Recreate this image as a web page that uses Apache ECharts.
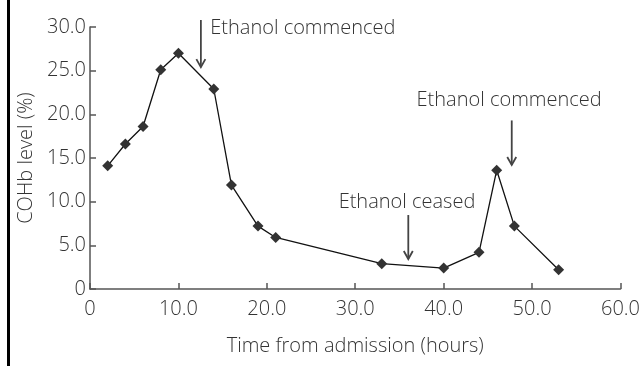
<!DOCTYPE html>
<html>
<head>
<meta charset="utf-8">
<script src="https://cdn.jsdelivr.net/npm/echarts@6/dist/echarts.min.js"></script>
<style>
html,body{margin:0;padding:0;background:#fff;}
#chart{width:643px;height:366px;}
</style>
</head>
<body>
<div id="chart"></div>
<script>
// Data
const hours = [2, 4, 6, 8, 10, 14, 16, 19, 21, 33, 40, 44, 46, 48, 53];
const cohb = [14.1, 16.6, 18.6, 25.1, 27.0, 22.9, 11.9, 7.2, 5.9, 2.9, 2.4, 4.2, 13.6, 7.2, 2.2];
const xTickValues = [0, 10, 20, 30, 40, 50, 60];
const xTickLabels = ['0', '10.0', '20.0', '30.0', '40.0', '50.0', '60.0'];
const yTickValues = [0, 5, 10, 15, 20, 25, 30];
const yTickLabels = ['0', '5.0', '10.0', '15.0', '20.0', '25.0', '30.0'];
const annotationTexts = ['Ethanol commenced', 'Ethanol ceased', 'Ethanol commenced'];
const arrowX = [12.54, 36.0, 47.7];
const arrowTop = [30.8, 8.47, 19.3];
const arrowTip = [25.4, 3.43, 14.2];
const textX = [13.6, 35.85, 47.4];
const textY = [29.9, 9.95, 21.6];
const textAlign = ['left', 'center', 'center'];

const FONT = 'Open Sans';
const FW = 300;
const FS = 20;
const TXT = '#333';
const chart = echarts.init(document.getElementById('chart'));
const points = hours.map((h, i) => [h, cohb[i]]);

chart.setOption({
  animation: false,
  textStyle: {fontFamily: FONT},
  grid: {left: 90, right: 22, top: 27, bottom: 77, containLabel: false},
  xAxis: {
    type: 'value', min: 0, max: 60, interval: 10,
    name: 'Time from admission (hours)', nameLocation: 'middle', nameGap: 47,
    nameTextStyle: {fontFamily: FONT, fontSize: FS, fontWeight: FW, color: TXT},
    axisLine: {lineStyle: {color: '#555', width: 1.5}},
    axisTick: {show: true, inside: true, length: 6, lineStyle: {color: '#555', width: 1.5}},
    axisLabel: {fontFamily: FONT, fontSize: FS, fontWeight: FW, color: TXT, margin: 10,
      formatter: v => { const i = xTickValues.indexOf(v); return i >= 0 ? xTickLabels[i] : ''; }},
    splitLine: {show: false}
  },
  yAxis: {
    type: 'value', min: 0, max: 30, interval: 5,
    name: 'COHb level (%)', nameLocation: 'middle', nameGap: 43,
    nameTextStyle: {fontFamily: FONT, fontSize: FS, fontWeight: FW, color: TXT},
    axisLine: {show: true, lineStyle: {color: '#555', width: 1.5}},
    axisTick: {show: true, inside: true, length: 6, lineStyle: {color: '#555', width: 1.5}},
    axisLabel: {fontFamily: FONT, fontSize: FS, fontWeight: FW, color: TXT, margin: 4,
      formatter: v => { const i = yTickValues.indexOf(v); return i >= 0 ? yTickLabels[i] : ''; }},
    splitLine: {show: false}
  },
  series: [{
    type: 'line',
    data: points,
    symbol: 'diamond',
    symbolSize: 11,
    itemStyle: {color: '#333'},
    lineStyle: {color: '#111', width: 1.3},
    clip: false
  }]
});

const g = [{
  type: 'rect', shape: {x: 7, y: 0, width: 3, height: 366},
  style: {fill: '#000'}, silent: true
}];
for (let i = 0; i < annotationTexts.length; i++) {
  const top = chart.convertToPixel({gridIndex: 0}, [arrowX[i], arrowTop[i]]);
  const tip = chart.convertToPixel({gridIndex: 0}, [arrowX[i], arrowTip[i]]);
  const tp = chart.convertToPixel({gridIndex: 0}, [textX[i], textY[i]]);
  g.push({type: 'line', shape: {x1: top[0], y1: top[1], x2: tip[0], y2: tip[1]},
    style: {stroke: '#444', lineWidth: 1.8}, silent: true});
  g.push({type: 'polyline', shape: {points: [[tip[0] - 4.5, tip[1] - 8], [tip[0], tip[1]], [tip[0] + 4.5, tip[1] - 8]]},
    style: {stroke: '#444', lineWidth: 1.8, fill: null}, silent: true});
  g.push({type: 'text', x: tp[0], y: tp[1],
    style: {text: annotationTexts[i], fontFamily: FONT, fontSize: FS, fontWeight: FW, fill: TXT,
      align: textAlign[i], verticalAlign: 'middle'}, silent: true});
}
chart.setOption({graphic: g});
</script>
</body>
</html>
